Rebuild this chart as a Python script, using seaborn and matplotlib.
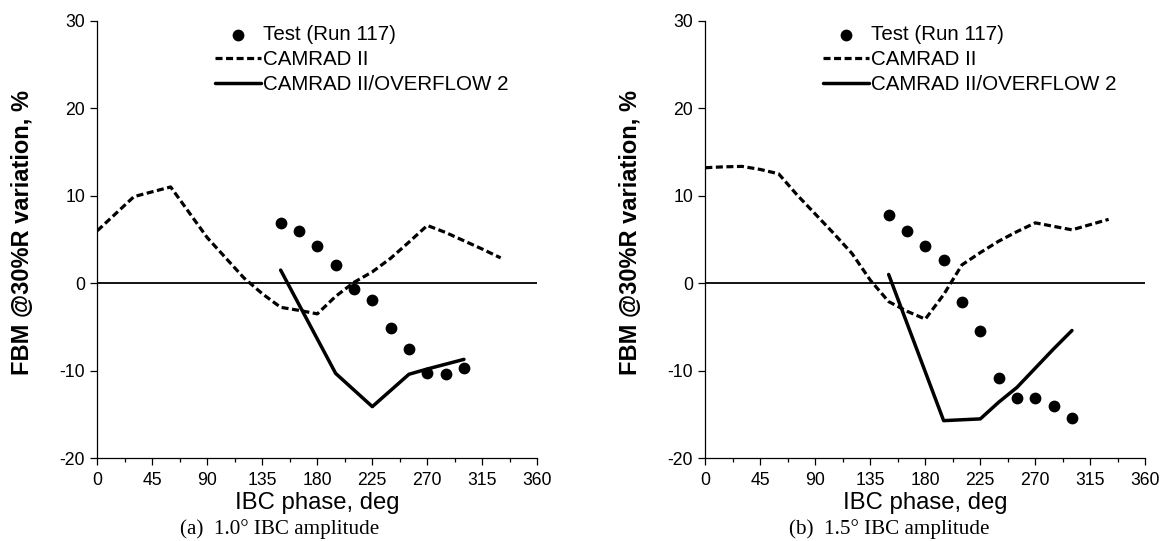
import matplotlib
matplotlib.use("Agg")
import matplotlib.pyplot as plt
import seaborn as sns

# IBC phase (deg) and FBM @30%R variation (%)
phase_test = [150, 165, 180, 195, 210, 225, 240, 255, 270, 285, 300]
test_a = [6.86, 5.94, 4.23, 2.14, -0.65, -1.86, -5.14, -7.54, -10.24, -10.36, -9.67]
test_b = [7.74, 5.94, 4.2, 2.6, -2.17, -5.49, -10.86, -13.06, -13.14, -13.98, -15.43]

phase_camrad = [0, 15, 30, 45, 60, 75, 90, 105, 120, 135, 150, 165,
                180, 195, 210, 225, 240, 255, 270, 285, 300, 315, 330]
camrad_a = [6.0, 7.95, 9.9, 10.45, 11.0, 8.1, 5.2, 2.9, 0.6, -1.2, -2.75, -3.1,
            -3.5, -1.5, 0.1, 1.3, 2.85, 4.7, 6.6, 5.8, 4.85, 3.9, 2.9]
camrad_b = [13.2, 13.3, 13.35, 13.0, 12.5, 10.1, 7.9, 5.7, 3.4, 0.35, -2.1, -3.2,
            -4.1, -1.3, 2.1, 3.5, 4.8, 5.9, 6.9, 6.5, 6.1, 6.7, 7.3]

phase_of_a = [150, 195, 225, 255, 270, 300]
overflow_a = [1.5, -10.3, -14.1, -10.4, -9.8, -8.7]
phase_of_b = [150, 195, 225, 240, 255, 270, 285, 300]
overflow_b = [1.0, -15.7, -15.5, -13.6, -11.9, -9.7, -7.5, -5.4]

captions = ["(a)  1.0\u00b0 IBC amplitude", "(b)  1.5\u00b0 IBC amplitude"]
legend_labels = ["Test (Run 117)", "CAMRAD II", "CAMRAD II/OVERFLOW 2"]

sns.set_style("ticks", {"axes.edgecolor": "black", "xtick.color": "black",
                        "ytick.color": "black", "text.color": "black",
                        "axes.labelcolor": "black"})
plt.rcParams["font.family"] = ["Liberation Sans", "DejaVu Sans"]
plt.rcParams["axes.unicode_minus"] = False

fig = plt.figure(figsize=(11.67, 5.41), dpi=100)
ax_pos = [[0.0834, 0.1529, 0.3770, 0.8089], [0.6044, 0.1529, 0.3770, 0.8089]]
cap_x = [0.2399, 0.7619]

panels = [(test_a, camrad_a, phase_of_a, overflow_a),
          (test_b, camrad_b, phase_of_b, overflow_b)]

for i, (test, camrad, phase_of, overflow) in enumerate(panels):
    ax = fig.add_axes(ax_pos[i])
    ax.axhline(0, color="black", lw=1.3, zorder=1)
    sns.lineplot(x=phase_camrad, y=camrad, ax=ax, color="black", lw=2.3,
                 linestyle=(0, (2.2, 1.1)), estimator=None, label=legend_labels[1])
    sns.lineplot(x=phase_of, y=overflow, ax=ax, color="black", lw=2.5,
                 estimator=None, label=legend_labels[2])
    sns.scatterplot(x=phase_test, y=test, ax=ax, color="black", s=72,
                    linewidth=0, zorder=3, label=legend_labels[0])

    ax.set_xlim(0, 360)
    ax.set_ylim(-20, 30)
    ax.set_xticks(range(0, 361, 45))
    ax.set_xticks([22.5 + 45 * k for k in range(8)], minor=True)
    ax.set_yticks(range(-20, 31, 10))
    ax.tick_params(axis="x", which="major", length=4.8, width=0.9, pad=5, labelsize=12.7)
    ax.tick_params(axis="x", which="minor", length=2.9, width=0.9)
    ax.tick_params(axis="y", length=4.75, width=0.9, pad=4, labelsize=12.7)
    for side in ["left", "bottom"]:
        ax.spines[side].set_linewidth(0.9)
    sns.despine(ax=ax)

    ax.set_xlabel("IBC phase, deg", fontsize=17.2)
    ax.xaxis.set_label_coords(0.5, -0.078)
    ax.set_ylabel("FBM @30%R variation, %", fontsize=17, fontweight="bold")
    ax.yaxis.set_label_coords(-0.143, 0.515)

    handles, labels = ax.get_legend_handles_labels()
    order = [labels.index(l) for l in legend_labels]
    ax.legend([handles[k] for k in order], legend_labels, loc="upper left",
              bbox_to_anchor=(0.2675, 0.99), frameon=False, fontsize=14.8,
              handlelength=2.25, handletextpad=0.08, labelspacing=0.3,
              borderpad=0, borderaxespad=0)

    fig.text(cap_x[i], 0.0222, captions[i], ha="center", va="center",
             family=["Liberation Serif", "DejaVu Serif"], fontsize=15.2)

fig.savefig("out.png", dpi=100)
